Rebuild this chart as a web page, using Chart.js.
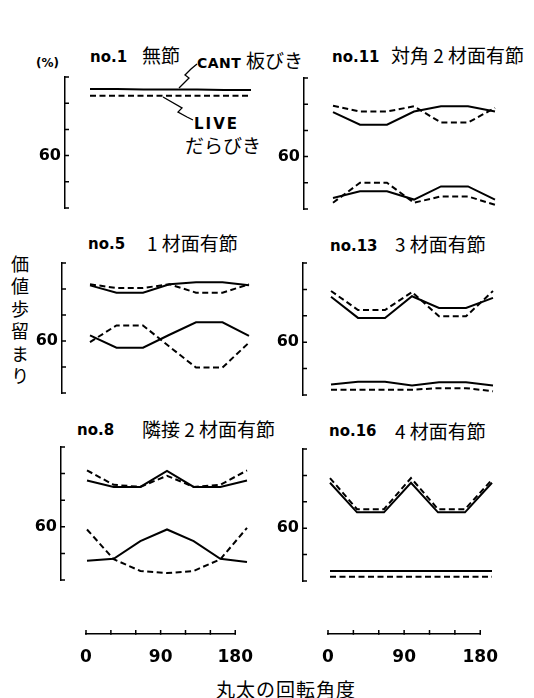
<!DOCTYPE html>
<html>
<head>
<meta charset="utf-8">
<script src="https://cdn.jsdelivr.net/npm/chart.js@4.4.1/dist/chart.umd.min.js"></script>
<style>
    body { margin: 0; background: #fff; }
    #fig { position: relative; width: 534px; height: 698px; overflow: hidden; color: #000; }
    #fig canvas { position: absolute; }
    .t { position: absolute; white-space: nowrap; line-height: 1; }
    .no { font-family: "DejaVu Sans", sans-serif; font-weight: bold; font-size: 15px; }
    .jp { font-family: "Noto Sans CJK JP", sans-serif; font-size: 19px; }
    #leaders { position: absolute; left: 0; top: 0; }
</style>
</head>
<body>
<div id="fig">
    <span class="t no" style="left:36px;top:57px;font-size:12px;">(%)</span>

    <span class="t no" style="left:90px;top:50px;">no.1</span>
    <span class="t jp" style="left:142px;top:45px;">無節</span>
    <span class="t no" style="left:197px;top:56px;font-size:14px;letter-spacing:0.5px;">CANT</span>
    <span class="t jp" style="left:246px;top:50px;">板びき</span>
    <span class="t no" style="left:194px;top:117px;font-size:15px;letter-spacing:2px;">LIVE</span>
    <span class="t jp" style="left:185px;top:135px;font-size:19px;">だらびき</span>

    <span class="t no" style="left:332px;top:50px;">no.11</span>
    <span class="t jp" style="left:391px;top:45px;">対角 2 材面有節</span>

    <span class="t no" style="left:88px;top:237px;">no.5</span>
    <span class="t jp" style="left:147px;top:233px;">1 材面有節</span>

    <span class="t no" style="left:330px;top:239px;">no.13</span>
    <span class="t jp" style="left:395px;top:234px;">3 材面有節</span>

    <span class="t no" style="left:77px;top:423px;">no.8</span>
    <span class="t jp" style="left:142px;top:419px;">隣接 2 材面有節</span>

    <span class="t no" style="left:329px;top:424px;">no.16</span>
    <span class="t jp" style="left:395px;top:421px;">4 材面有節</span>

    <span class="t jp" style="left:11px;top:255px;font-size:18px;writing-mode:vertical-rl;letter-spacing:4.5px;">価値歩留まり</span>
    <span class="t jp" style="left:216px;top:679px;font-size:19px;letter-spacing:1px;">丸太の回転角度</span>

    <svg id="leaders" width="534" height="698">
        <polyline points="179,88 189,78 185,75 191,69 197,64" fill="none" stroke="#000" stroke-width="1.3"/>
        <polyline points="163,97 182,108 178,112 187,117 193,120" fill="none" stroke="#000" stroke-width="1.3"/>
    </svg>
</div>

<script>
    'use strict';

    // rotation angle of the log (deg)
    var angles = [0, 30, 60, 90, 120, 150, 180];
    var yTicks = [50, 55, 60, 65, 70, 75];
    var yLabels = [60];
    var xLabels = [0, 90, 180];

    // no.1 無節
    var no1Cant = [72.7, 72.7, 72.6, 72.6, 72.6, 72.5, 72.5];
    var no1Live = [71.4, 71.4, 71.4, 71.4, 71.4, 71.4, 71.4];

    // no.11 対角2材面有節
    var no11CantHigh = [68.5, 66.1, 66.1, 68.6, 69.6, 69.6, 68.6];
    var no11LiveHigh = [69.7, 68.6, 68.6, 69.6, 66.5, 66.5, 69.3];
    var no11CantLow = [52.1, 53.4, 53.4, 51.8, 54.3, 54.3, 51.8];
    var no11LiveLow = [51.2, 55.0, 55.0, 51.2, 52.4, 52.4, 50.8];

    // no.5 1材面有節
    var no5CantHigh = [70.7, 69.3, 69.3, 70.9, 71.3, 71.3, 70.7];
    var no5LiveHigh = [70.9, 70.2, 70.2, 70.9, 69.3, 69.3, 70.9];
    var no5CantLow = [61.1, 58.7, 58.7, 61.2, 63.6, 63.6, 61.0];
    var no5LiveLow = [59.8, 63.0, 63.0, 58.9, 54.9, 54.9, 59.7];

    // no.13 3材面有節
    var no13CantHigh = [68.6, 64.6, 64.6, 68.7, 66.5, 66.5, 68.4];
    var no13LiveHigh = [69.7, 66.1, 66.1, 69.5, 64.9, 64.9, 69.7];
    var no13CantLow = [52.0, 52.5, 52.5, 51.8, 52.4, 52.4, 51.8];
    var no13LiveLow = [51.0, 51.0, 51.0, 51.0, 51.3, 51.3, 50.7];

    // no.8 隣接2材面有節
    var no8CantHigh = [68.7, 67.5, 67.5, 70.5, 67.5, 67.5, 68.7];
    var no8LiveHigh = [70.6, 67.9, 67.5, 69.6, 67.5, 67.9, 70.6];
    var no8CantLow = [53.6, 54.0, 57.3, 59.5, 57.3, 54.0, 53.4];
    var no8LiveLow = [59.5, 53.9, 51.7, 51.3, 51.7, 53.9, 59.8];

    // no.16 4材面有節
    var no16CantHigh = [68.6, 63.0, 63.0, 68.6, 63.0, 63.0, 68.6];
    var no16LiveHigh = [69.5, 63.6, 63.6, 69.5, 63.6, 63.6, 69.2];
    var no16CantLow = [51.9, 51.9, 51.9, 51.9, 51.9, 51.9, 51.9];
    var no16LiveLow = [50.8, 50.8, 50.8, 50.8, 50.8, 50.8, 50.8];

    var AXIS_W = 40;
    var PAD = 4;
    var numFont = {family: 'DejaVu Sans', weight: 'bold', size: 16};

    // short ticks pointing into the plot, like the printed figure
    var inwardTicks = {
        id: 'inwardTicks',
        afterDraw: function (chart, args, opts) {
            var ctx = chart.ctx;
            var len = opts.length || 4;
            ctx.save();
            ctx.strokeStyle = '#000';
            ctx.lineWidth = 1.5;
            ctx.beginPath();
            if (opts.axis === 'y') {
                var ys = chart.scales.y;
                yTicks.forEach(function (v) {
                    var py = ys.getPixelForValue(v);
                    ctx.moveTo(ys.right - 0.75, py);
                    ctx.lineTo(ys.right + len, py);
                });
            } else {
                var xs = chart.scales.x;
                angles.forEach(function (v) {
                    var px = xs.getPixelForValue(v);
                    ctx.moveTo(px, xs.top + 0.75);
                    ctx.lineTo(px, xs.top - len);
                });
            }
            ctx.stroke();
            ctx.restore();
        }
    };

    function toPoints(vals) {
        return angles.map(function (a, i) {
            return {x: a, y: vals[i]};
        });
    }

    function addCanvas(left, top, width, height) {
        var c = document.createElement('canvas');
        c.width = width;
        c.height = height;
        c.style.left = left + 'px';
        c.style.top = top + 'px';
        c.style.width = width + 'px';
        c.style.height = height + 'px';
        document.getElementById('fig').appendChild(c);
        return c;
    }

    var panels = [
        {axisX: 65, x0: 90, x180: 251, top: 77, bottom: 208, cant: [no1Cant], live: [no1Live]},
        {axisX: 304, x0: 333, x180: 495, top: 78, bottom: 209, cant: [no11CantHigh, no11CantLow], live: [no11LiveHigh, no11LiveLow]},
        {axisX: 62, x0: 90, x180: 249, top: 263, bottom: 393, cant: [no5CantHigh, no5CantLow], live: [no5LiveHigh, no5LiveLow]},
        {axisX: 303, x0: 331, x180: 493, top: 263, bottom: 395, cant: [no13CantHigh, no13CantLow], live: [no13LiveHigh, no13LiveLow]},
        {axisX: 61, x0: 87, x180: 247, top: 447, bottom: 580, cant: [no8CantHigh, no8CantLow], live: [no8LiveHigh, no8LiveLow]},
        {axisX: 303, x0: 330, x180: 492, top: 449, bottom: 581, cant: [no16CantHigh, no16CantLow], live: [no16LiveHigh, no16LiveLow]}
    ];

    panels.forEach(function (p) {
        var left = p.axisX - AXIS_W;
        var top = p.top - PAD;
        var width = p.x180 + PAD - left;
        var height = p.bottom - p.top + 2 * PAD;
        var xMin = -(p.x0 - p.axisX) * 180 / (p.x180 - p.x0);

        var datasets = [];
        p.cant.forEach(function (vals) {
            datasets.push({label: 'CANT', data: toPoints(vals), borderColor: '#000', borderWidth: 2,
                pointRadius: 0, fill: false, tension: 0, clip: false});
        });
        p.live.forEach(function (vals) {
            datasets.push({label: 'LIVE', data: toPoints(vals), borderColor: '#000', borderWidth: 2,
                borderDash: [6, 3.5], pointRadius: 0, fill: false, tension: 0, clip: false});
        });

        //noinspection JSUnusedLocalSymbols
        var chart = new Chart(addCanvas(left, top, width, height), {
            type: 'line',
            data: {datasets: datasets},
            plugins: [inwardTicks],
            options: {
                responsive: false,
                animation: false,
                layout: {padding: {top: PAD, bottom: PAD, right: PAD, left: 0}},
                plugins: {
                    legend: {display: false},
                    tooltip: {enabled: false},
                    inwardTicks: {axis: 'y', length: 4}
                },
                scales: {
                    x: {type: 'linear', display: false, min: xMin, max: 180},
                    y: {
                        type: 'linear',
                        min: 50,
                        max: 75,
                        afterFit: function (scale) {
                            scale.width = AXIS_W;
                            scale.paddingTop = 0;
                            scale.paddingBottom = 0;
                        },
                        grid: {display: false, drawTicks: false},
                        border: {display: true, color: '#000', width: 1.5},
                        ticks: {
                            stepSize: 5,
                            autoSkip: false,
                            padding: 4,
                            color: '#000',
                            font: numFont,
                            callback: function (v) {
                                return yLabels.indexOf(v) >= 0 ? String(v) : null;
                            }
                        }
                    }
                }
            }
        });
    });

    // the two shared angle axes at the bottom
    [{x0: 86, x180: 246}, {x0: 328, x180: 491}].forEach(function (a) {
        var side = 20;
        var axisY = 634;
        var top = 614;
        var left = a.x0 - side;
        var width = a.x180 - a.x0 + 2 * side;
        var height = axisY - top + 40;

        //noinspection JSUnusedLocalSymbols
        var chart = new Chart(addCanvas(left, top, width, height), {
            type: 'line',
            data: {datasets: []},
            plugins: [inwardTicks],
            options: {
                responsive: false,
                animation: false,
                layout: {padding: {top: 0, bottom: 0, left: side, right: side}},
                plugins: {
                    legend: {display: false},
                    tooltip: {enabled: false},
                    inwardTicks: {axis: 'x', length: 4}
                },
                scales: {
                    x: {
                        type: 'linear',
                        min: 0,
                        max: 180,
                        afterFit: function (scale) {
                            scale.height = 40;
                        },
                        grid: {display: false, drawTicks: false},
                        border: {display: true, color: '#000', width: 1.5},
                        ticks: {
                            stepSize: 30,
                            autoSkip: false,
                            maxRotation: 0,
                            padding: 13,
                            color: '#000',
                            font: {family: 'DejaVu Sans', weight: 'bold', size: 17},
                            callback: function (v) {
                                return xLabels.indexOf(v) >= 0 ? String(v) : null;
                            }
                        }
                    },
                    y: {display: false, min: 0, max: 1}
                }
            }
        });
    });
</script>
</body>
</html>
